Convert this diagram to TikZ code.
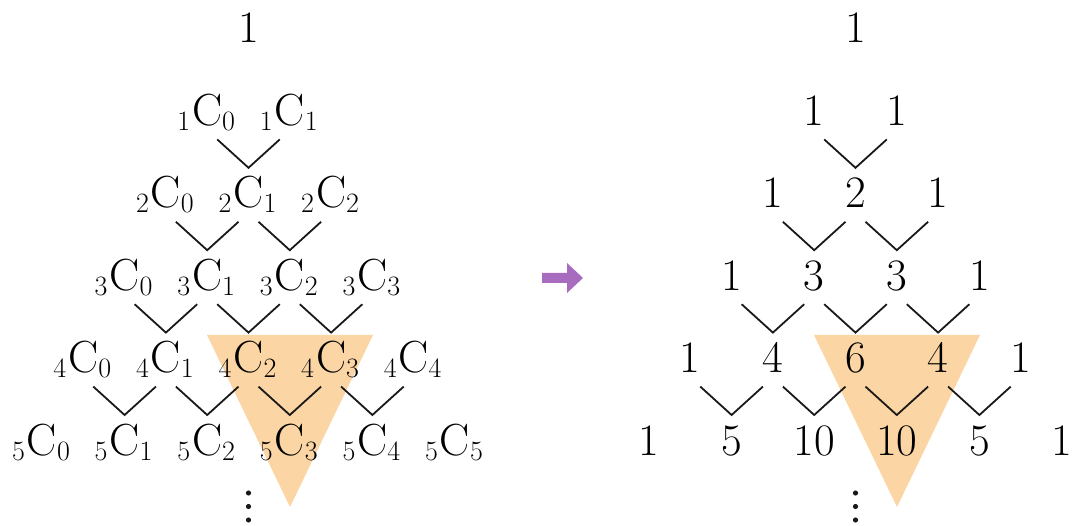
\documentclass[tikz,border=0pt]{standalone}
\usepackage{fontspec}
\definecolor{tri}{RGB}{251,213,163}
\definecolor{arr}{RGB}{168,108,190}
\newcommand\subnum[1]{\raisebox{-5pt}{\fontsize{28}{30}\selectfont #1}}
\newcommand\bcoef[2]{\llap{\subnum{#1}\kern2pt}C\rlap{\subnum{#2}}}
\begin{document}
\begin{tikzpicture}[x=1pt,y=-1pt,
  every node/.style={inner sep=0pt},
  num/.style={anchor=base,font=\fontsize{45}{54}\selectfont},
  vline/.style={line width=1.8pt,black!90},
  dotmark/.style={fill=black!90}]
\useasboundingbox (0,0) rectangle (1076,526);
% highlighted triangles
\fill[tri] (207,335) -- (373,335) -- (290,507) -- cycle;
\fill[tri] (814,335) -- (980,335) -- (897,507) -- cycle;
% apex
\node[num] (L-0-0) at (248.5,43) {1};
\node[num] (R-0-0) at (855.5,43) {1};
% rows
\foreach \r in {1,...,5}{
  \foreach \k in {0,...,\r}{
    \pgfmathsetmacro\xx{248.5+(\k-\r/2)*82.6}
    \pgfmathsetmacro\yy{43+82.4*\r}
    \pgfmathtruncatemacro\val{round(factorial(\r)/(factorial(\k)*factorial(\r-\k)))}
    \node[num] (L-\r-\k) at (\xx,\yy) {\bcoef{\r}{\k}};
    \node[num] (R-\r-\k) at (\xx+607,\yy) {\val};
  }
}
% V connectors
\foreach \r in {1,...,4}{
  \pgfmathtruncatemacro\rr{\r-1}
  \pgfmathtruncatemacro\rn{\r+1}
  \foreach \k in {0,...,\rr}{
    \pgfmathtruncatemacro\kn{\k+1}
    \foreach \s in {L,R}{
      \draw[vline] ([xshift=10pt,yshift=-14pt]\s-\r-\k.base)
        -- ([yshift=40pt]\s-\rn-\kn.base)
        -- ([xshift=-10pt,yshift=-14pt]\s-\r-\kn.base);
    }
  }
}
% vertical dots (continuation)
\foreach \cx in {248.5,855.5}{
  \foreach \dy in {493,506.5,520}{
    \fill[dotmark] (\cx,\dy) circle[radius=2.6];
  }
}
% arrow
\fill[arr] (542,273) -- (567,273) -- (567,263) -- (583,278) -- (567,293) -- (567,283) -- (542,283) -- cycle;
\end{tikzpicture}
\end{document}
